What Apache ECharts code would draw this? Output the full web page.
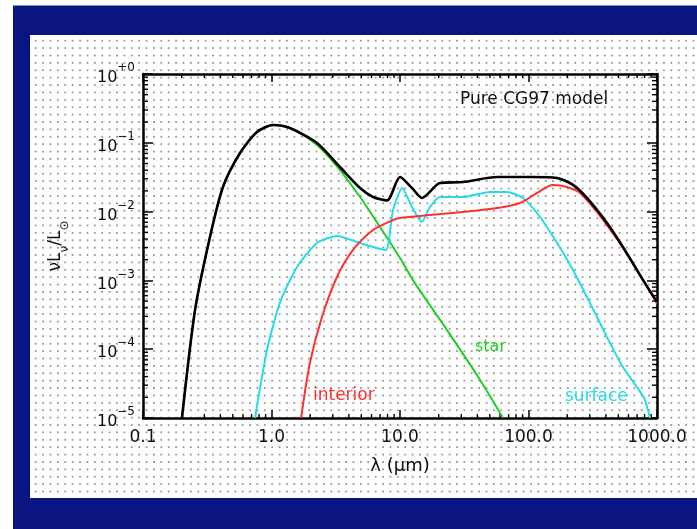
<!DOCTYPE html>
<html>
<head>
<meta charset="utf-8">
<script src="https://cdn.jsdelivr.net/npm/echarts@6/dist/echarts.min.js"></script>
<style>
  html, body { margin:0; padding:0; background:#ffffff; width:697px; height:529px; overflow:hidden; }
  #frame { position:absolute; left:13px; top:5px; width:684px; height:524px; background:#0b1582; border-top:1px solid #8a93c8; }
  #inner { position:absolute; left:30px; top:35px; width:667px; height:463px; background-color:#ffffff;
    background-image: radial-gradient(circle, #9c9c9c 0.9px, rgba(255,255,255,0) 1.3px);
    background-size: 7.4px 7.4px; background-position: 2px 2px; }
  #chart { position:absolute; left:0; top:0; width:697px; height:529px; }
</style>
</head>
<body>
<div id="frame"></div>
<div id="inner"></div>
<div id="chart"></div>
<script>
// ---- data (wavelength in micron, nu L_nu / L_sun) ----
const starLambda     = [0.201,0.254,0.332,0.419,0.569,0.771,1.03,1.39,2.26,3.41,4.89,6.99,10.0,12.6,23.2,42.0,63.3];
const starFlux       = [1e-5,3.7e-4,4.27e-3,0.0228,0.0711,0.1435,0.1815,0.164,0.093,0.0402,0.0163,5.97e-3,2.12e-3,1.01e-3,1.9e-4,3.57e-5,1e-5];

const surfaceLambda  = [0.744,0.922,1.16,1.58,2.26,3.23,4.63,6.17,7.78,8.83,10.4,12.4,14.8,17.1,20.5,30.9,50.1,68.0,90.6,123,167,222,301,408,543,680,800,883];
const surfaceFlux    = [1e-5,9.7e-5,4.69e-4,1.57e-3,3.5e-3,4.42e-3,3.62e-3,3.06e-3,2.77e-3,0.01055,0.0220,0.01167,7.06e-3,0.01167,0.0163,0.0163,0.0193,0.0193,0.0158,8.35e-3,3.5e-3,1.42e-3,4.69e-4,1.5e-4,5.5e-5,3.0e-5,1.9e-5,1e-5];

const interiorLambda = [1.70,1.99,2.47,3.23,4.31,6.17,8.83,10.0,17.1,30.9,56.9,85.9,116,155,199,252,408,650,1000];
const interiorFlux   = [1e-5,6.3e-5,2.94e-4,1.12e-3,2.77e-3,5.4e-3,7.55e-3,8.07e-3,8.92e-3,9.87e-3,0.01128,0.01334,0.0186,0.0244,0.0228,0.0186,6.38e-3,1.79e-3,4.6e-4];

const totalLambda    = [0.201,0.254,0.332,0.419,0.569,0.771,1.03,1.39,2.26,3.41,4.89,6.17,7.92,10.0,12.4,14.8,20.5,30.9,56.9,103,167,222,285,408,543,778,1000];
const totalFlux      = [1e-5,3.7e-4,4.27e-3,0.0228,0.0711,0.1435,0.1815,0.164,0.0993,0.0445,0.022,0.0163,0.0145,0.0318,0.022,0.0158,0.026,0.0269,0.0318,0.0318,0.0308,0.0244,0.0158,6.83e-3,3.06e-3,1.01e-3,4.85e-4];

const xTicks = [0.1, 1, 10, 100, 1000];
const xTickLabels = ['0.1', '1.0', '10.0', '100.0', '1000.0'];
const yTicks = [1, 1e-1, 1e-2, 1e-3, 1e-4, 1e-5];
const yTickExp = ['+0', '\u22121', '\u22122', '\u22123', '\u22124', '\u22125'];

const xMin = 0.1, xMax = 1000, yMin = 1e-5, yMax = 1;

// minor tick positions (2..9 in each decade)
const xMinor = [];
[0.1, 1, 10, 100].forEach(d => { for (let m = 2; m <= 9; m++) xMinor.push([d * m, yMin]); });
const yMinor = [];
[1e-5, 1e-4, 1e-3, 1e-2, 1e-1].forEach(d => { for (let m = 2; m <= 9; m++) yMinor.push([xMin, d * m]); });

const zip = (a, b) => a.map((v, i) => [v, b[i]]);
const FONT = 'DejaVu Sans';

function xLabel(v) {
  let best = 0, bd = Infinity;
  xTicks.forEach((t, i) => { const d = Math.abs(Math.log10(v) - Math.log10(t)); if (d < bd) { bd = d; best = i; } });
  return xTickLabels[best];
}
function yLabel(v) {
  let best = 0, bd = Infinity;
  yTicks.forEach((t, i) => { const d = Math.abs(Math.log10(v) - Math.log10(t)); if (d < bd) { bd = d; best = i; } });
  return '{b|10}{s|' + yTickExp[best] + '}';
}

const chart = echarts.init(document.getElementById('chart'), null, { renderer: 'canvas' });

const axisLineStyle = { color: '#000', width: 2.5 };

const option = {
  backgroundColor: 'transparent',
  animation: false,
  grid: { left: 143, top: 74, right: 40, bottom: 111, containLabel: false },
  xAxis: [
    {
      type: 'log', logBase: 10, min: xMin, max: xMax, position: 'bottom',
      axisLine: { show: true, lineStyle: axisLineStyle },
      axisTick: { show: true, inside: true, length: 8, lineStyle: { color: '#000', width: 1.5 } },
      splitLine: { show: false },
      axisLabel: { show: true, margin: 11, color: '#111', fontFamily: FONT, fontSize: 17, formatter: xLabel },
      name: '\u03bb (\u00b5m)', nameLocation: 'middle', nameGap: 39,
      nameTextStyle: { color: '#111', fontFamily: FONT, fontSize: 18 }
    },
    {
      type: 'log', logBase: 10, min: xMin, max: xMax, position: 'top',
      axisLine: { show: true, lineStyle: axisLineStyle },
      axisTick: { show: true, inside: true, length: 8, lineStyle: { color: '#000', width: 1.5 } },
      splitLine: { show: false }, axisLabel: { show: false }
    }
  ],
  yAxis: [
    {
      type: 'log', logBase: 10, min: yMin, max: yMax, position: 'left',
      axisLine: { show: true, lineStyle: axisLineStyle },
      axisTick: { show: true, inside: true, length: 10, lineStyle: { color: '#000', width: 1.5 } },
      splitLine: { show: false },
      axisLabel: {
        show: true, margin: 8, formatter: yLabel,
        rich: {
          b: { fontFamily: FONT, fontSize: 16, color: '#111', lineHeight: 24, verticalAlign: 'bottom' },
          s: { fontFamily: FONT, fontSize: 12, color: '#111', lineHeight: 12, verticalAlign: 'top' }
        }
      },
      name: '{n|\u03bdL}{sb|\u03bd}{n|/L}{sb|\u2299}', nameLocation: 'middle', nameGap: 72, nameRotate: 90,
      nameTextStyle: {
        rich: {
          n: { fontFamily: FONT, fontSize: 17, color: '#111', lineHeight: 24, verticalAlign: 'top' },
          sb: { fontFamily: FONT, fontSize: 12, color: '#111', lineHeight: 12, verticalAlign: 'bottom' }
        }
      }
    },
    {
      type: 'log', logBase: 10, min: yMin, max: yMax, position: 'right',
      axisLine: { show: true, lineStyle: axisLineStyle },
      axisTick: { show: true, inside: true, length: 10, lineStyle: { color: '#000', width: 1.5 } },
      splitLine: { show: false }, axisLabel: { show: false }
    }
  ],
  graphic: [
    { type: 'text', left: 460, top: 91, style: { text: 'Pure CG97 model', fontFamily: FONT, fontSize: 17, fill: '#111' } },
    { type: 'text', left: 475, top: 339, style: { text: 'star', fontFamily: FONT, fontSize: 16, fill: '#22cc22' } },
    { type: 'text', left: 313, top: 387, style: { text: 'interior', fontFamily: FONT, fontSize: 17, fill: '#ff3030' } },
    { type: 'text', left: 565, top: 388, style: { text: 'surface', fontFamily: FONT, fontSize: 17, fill: '#22dde8' } }
  ],
  series: [
    {
      type: 'custom', name: 'xminor', xAxisIndex: 0, yAxisIndex: 0, silent: true, data: xMinor, clip: false,
      renderItem: (params, api) => {
        const v = api.value(0);
        const b = api.coord([v, yMin]);
        const t = api.coord([v, yMax]);
        return { type: 'group', children: [
          { type: 'line', shape: { x1: b[0], y1: b[1], x2: b[0], y2: b[1] - 4 }, style: { stroke: '#000', lineWidth: 1.4 } },
          { type: 'line', shape: { x1: t[0], y1: t[1], x2: t[0], y2: t[1] + 4 }, style: { stroke: '#000', lineWidth: 1.4 } }
        ] };
      }
    },
    {
      type: 'custom', name: 'yminor', xAxisIndex: 0, yAxisIndex: 0, silent: true, data: yMinor, clip: false,
      renderItem: (params, api) => {
        const v = api.value(1);
        const l = api.coord([xMin, v]);
        const r = api.coord([xMax, v]);
        return { type: 'group', children: [
          { type: 'line', shape: { x1: l[0], y1: l[1], x2: l[0] + 5, y2: l[1] }, style: { stroke: '#000', lineWidth: 1.4 } },
          { type: 'line', shape: { x1: r[0], y1: r[1], x2: r[0] - 5, y2: r[1] }, style: { stroke: '#000', lineWidth: 1.4 } }
        ] };
      }
    },
    { type: 'line', name: 'star', data: zip(starLambda, starFlux), showSymbol: false, smooth: 0.3,
      lineStyle: { color: '#22cc22', width: 2 }, clip: true, z: 3 },
    { type: 'line', name: 'surface', data: zip(surfaceLambda, surfaceFlux), showSymbol: false, smooth: 0.2,
      lineStyle: { color: '#22dde8', width: 2 }, clip: true, z: 4 },
    { type: 'line', name: 'interior', data: zip(interiorLambda, interiorFlux), showSymbol: false, smooth: 0.3,
      lineStyle: { color: '#ff3030', width: 2 }, clip: true, z: 5 },
    { type: 'line', name: 'total', data: zip(totalLambda, totalFlux), showSymbol: false, smooth: 0.25,
      lineStyle: { color: '#000000', width: 2.6 }, clip: true, z: 6 }
  ]
};
chart.setOption(option);
</script>
</body>
</html>
